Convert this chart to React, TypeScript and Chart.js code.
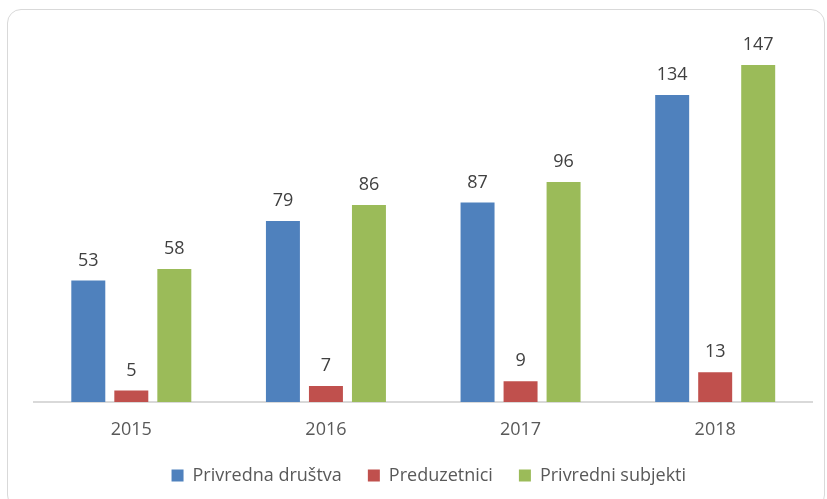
import React, { useEffect, useRef } from "react";
import { Chart, registerables } from "chart.js";

Chart.register(...registerables);

const categories = ["2015", "2016", "2017", "2018"];
const seriesNames = ["Privredna društva", "Preduzetnici", "Privredni subjekti"];
const privrednaDrustva = [53, 79, 87, 134];
const preduzetnici = [5, 7, 9, 13];
const privredniSubjekti = [58, 86, 96, 147];
const seriesColors = ["#4f81bd", "#c0504d", "#9bbb59"];

const FONT = "'Open Sans', 'Noto Sans', sans-serif";

const valueLabels = {
  id: "valueLabels",
  afterDatasetsDraw(chart: any) {
    const ctx = chart.ctx;
    ctx.save();
    ctx.font = `18px ${FONT}`;
    ctx.fillStyle = "#404040";
    ctx.textAlign = "center";
    ctx.textBaseline = "alphabetic";
    chart.data.datasets.forEach((ds: any, di: number) => {
      const meta = chart.getDatasetMeta(di);
      meta.data.forEach((bar: any, i: number) => {
        ctx.fillText(String(ds.data[i]), bar.x, bar.y - 15);
      });
    });
    ctx.restore();
  },
};

export default function App() {
  const ref = useRef<HTMLCanvasElement | null>(null);

  useEffect(() => {
    if (!ref.current) return;
    const chart = new Chart(ref.current, {
      type: "bar",
      data: {
        labels: categories,
        datasets: [
          { label: seriesNames[0], data: privrednaDrustva, backgroundColor: seriesColors[0] },
          { label: seriesNames[1], data: preduzetnici, backgroundColor: seriesColors[1] },
          { label: seriesNames[2], data: privredniSubjekti, backgroundColor: seriesColors[2] },
        ],
      },
      options: {
        responsive: false,
        animation: false,
        datasets: {
          bar: { categoryPercentage: 0.663, barPercentage: 0.79 },
        },
        layout: { padding: { left: 34, right: 3.4, top: 35.3, bottom: 4.4 } },
        scales: {
          x: {
            grid: { display: false, drawTicks: false },
            border: { display: true, color: "#d9d9d9", width: 2 },
            ticks: {
              color: "#595959",
              font: { family: FONT, size: 18 },
              padding: 17.5,
            },
            afterFit: (scale: any) => {
              scale.height = 38.6;
            },
          },
          y: {
            position: "right",
            min: 0,
            max: 160,
            grid: { display: false, drawTicks: false },
            border: { display: false },
            ticks: { display: false },
            afterFit: (scale: any) => {
              scale.width = 11.1;
            },
          },
        },
        plugins: {
          legend: {
            position: "bottom",
            labels: {
              boxWidth: 12,
              boxHeight: 12,
              padding: 26,
              color: "#595959",
              font: { family: FONT, size: 18 },
            },
          },
          tooltip: { enabled: false },
          title: { display: false },
        },
      },
      plugins: [valueLabels],
    });
    return () => chart.destroy();
  }, []);

  return (
    <div
      style={{
        position: "fixed",
        left: 0,
        top: 0,
        width: 827,
        height: 499,
        background: "#ffffff",
        overflow: "hidden",
      }}
    >
      <div
        style={{
          position: "absolute",
          left: 7,
          top: 9,
          width: 818,
          height: 500,
          border: "1.5px solid #d9d9d9",
          borderRadius: 14,
          boxSizing: "border-box",
        }}
      />
      <canvas
        ref={ref}
        width={827}
        height={499}
        style={{ position: "absolute", left: 0, top: 0, width: 827, height: 499 }}
      />
    </div>
  );
}
